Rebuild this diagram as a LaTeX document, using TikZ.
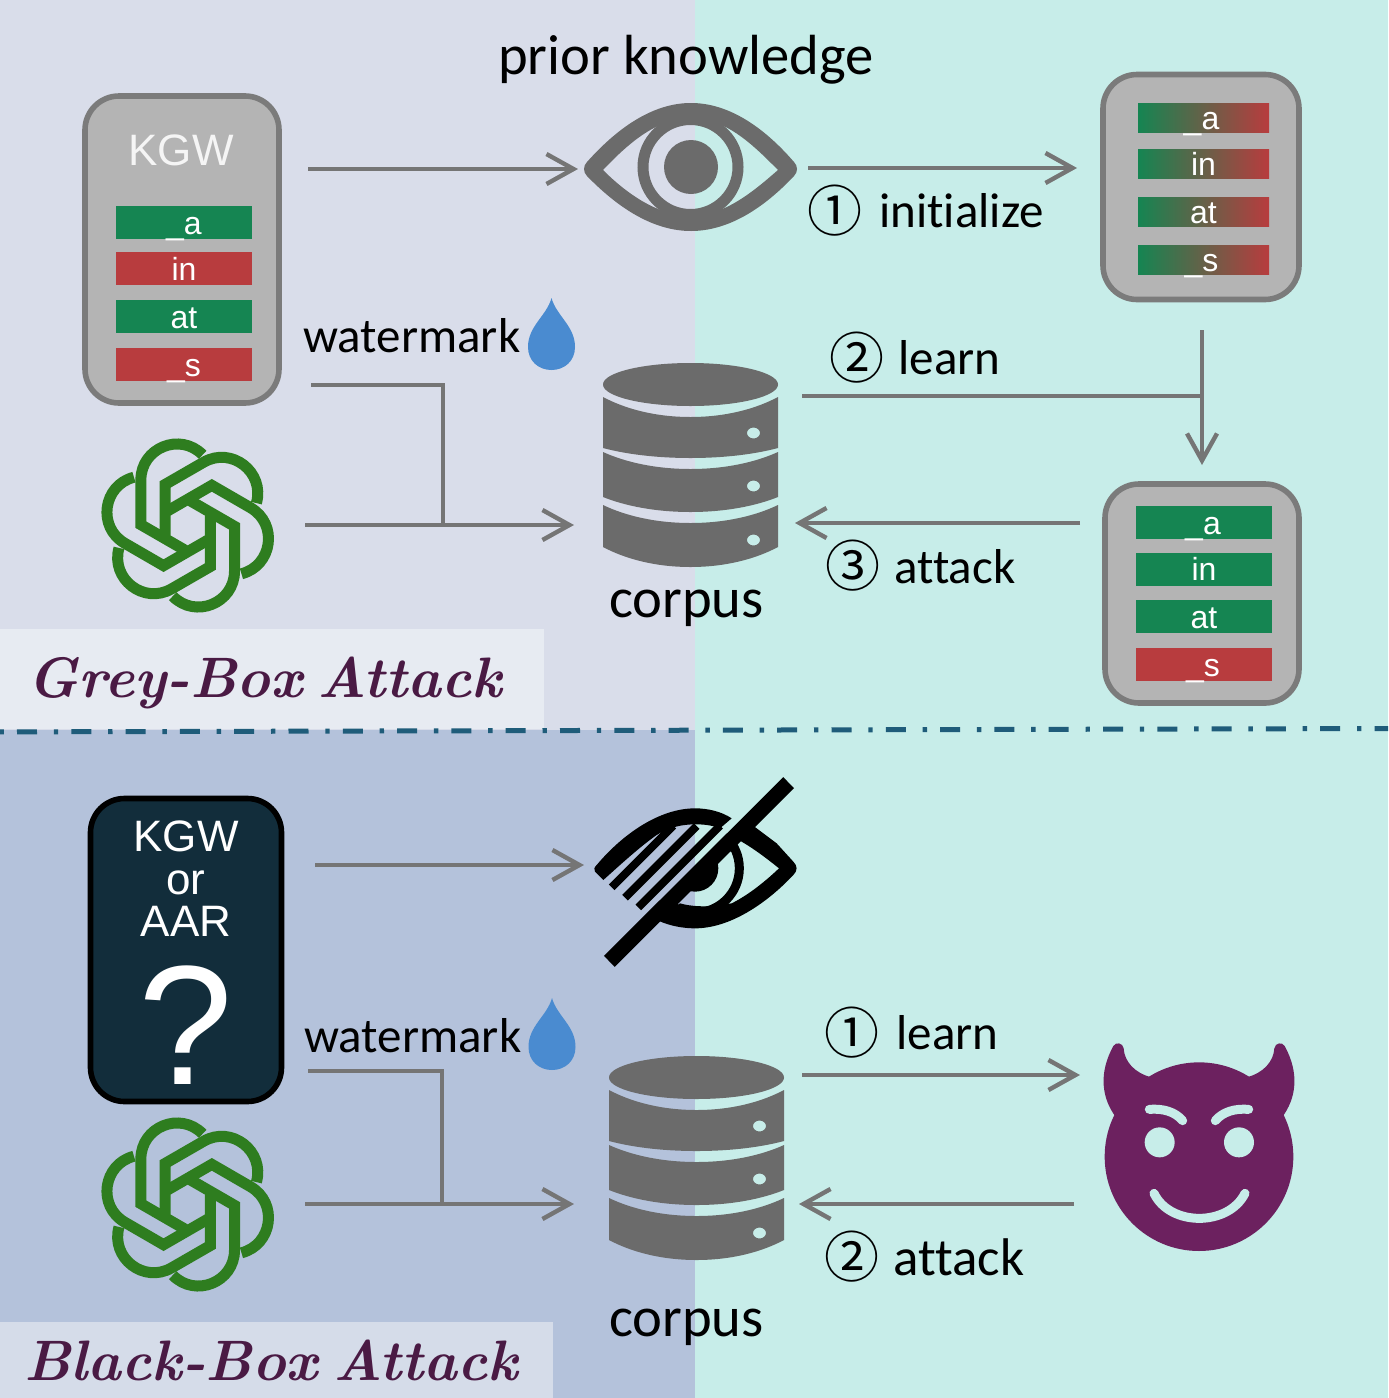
\documentclass[tikz,border=0pt]{standalone}
\usepackage{fontspec}
\usetikzlibrary{arrows.meta}
\newfontfamily\bodyfont[Ligatures=NoCommon]{Carlito}
\newfontfamily\cardfont{Liberation Sans}
\newfontfamily\circfont{Noto Sans CJK SC}
\definecolor{bgteal}{HTML}{C7EDE9}
\definecolor{bgtop}{HTML}{D9DDEA}
\definecolor{bgbot}{HTML}{B4C2DB}
\definecolor{boxtop}{HTML}{E7EBF2}
\definecolor{boxbot}{HTML}{D5DCE9}
\definecolor{divline}{HTML}{1F5C7A}
\definecolor{arrowgrey}{HTML}{757575}
\definecolor{icongrey}{HTML}{6B6B6B}
\definecolor{cardline}{HTML}{7B7B7B}
\definecolor{cardfill}{HTML}{B4B4B4}
\definecolor{darkcard}{HTML}{122D3B}
\definecolor{wgreen}{HTML}{158552}
\definecolor{wred}{HTML}{B83C3E}
\definecolor{logogreen}{HTML}{2E7D1F}
\definecolor{dropblue}{HTML}{4A8BD0}
\definecolor{devil}{HTML}{6C215F}
\definecolor{titlecol}{HTML}{4A1A44}
\newcommand\dbband[5]{\fill[icongrey, even odd rule] (-87.5,#1) .. controls (-65,{#1+0.6*(#2-#1)}) and (-35,#2) .. (0,#2) .. controls (35,#2) and (65,{#1+0.6*(#2-#1)}) .. (87.5,#1) -- (87.5,#3) .. controls (65,{#3+0.6*(#4-#3)}) and (35,#4) .. (0,#4) .. controls (-35,#4) and (-65,{#3+0.6*(#4-#3)}) .. (-87.5,#3) -- cycle (63,#5) ellipse [x radius=6.5,y radius=5.5];}
\tikzset{
  conn/.style={draw=arrowgrey,line width=2.2pt},
  arr/.style={conn,-{Straight Barb[length=13.5pt,width=15pt,line width=2.2pt]}},
  card/.style={rectangle,draw=cardline,line width=2.8pt,fill=cardfill,rounded corners=17pt,inner sep=0pt},
  bignum/.style={font=\circfont\fontsize{27.5}{28}\selectfont,inner sep=0pt,text=black},
  lab/.style={font=\bodyfont\fontsize{24.5}{26}\selectfont,anchor=base west,inner sep=0pt,text=black},
  labc/.style={font=\bodyfont\fontsize{28.3}{30}\selectfont,anchor=base,inner sep=0pt,text=black},
  cardtext/.style={font=\cardfont\fontsize{22}{24}\selectfont,anchor=base,inner sep=0pt},
  barbase/.style={rectangle,inner sep=0pt,text=white,font=\cardfont\fontsize{16}{16}\selectfont},
  barbig/.style={barbase,minimum width=68pt,minimum height=16.5pt,text height=14pt,text depth=2.5pt},
  barsmall/.style={barbase,minimum width=65.5pt,minimum height=14.5pt,text height=13pt,text depth=1.5pt,left color=wgreen,right color=wred},
  titlelab/.style={font=\rmfamily\itshape\bfseries\fontsize{28.5}{30}\selectfont,text=titlecol,anchor=base,inner sep=0pt},
  dbicon/.pic={
    \fill[icongrey] (0,21.5) ellipse [x radius=87.5,y radius=21.5];
    \dbband{34}{54}{85}{95}{70}
    \dbband{89}{106}{134}{149}{123}
    \dbband{142}{160}{184}{204}{177}
  },
  logoicon/.pic={
    \foreach \a in {0,60,...,300}{
      \draw[logogreen,line width=5.5pt,rotate=\a] (-22.7,10) -- (-22.7,-41) -- (16,-63.3) .. controls (43.9,-79.4) and (77.3,-53.4) .. (68.7,-22.4);
    }
  },
  dropicon/.pic={
    \fill[dropblue] (0,0) .. controls (-5,18) and (-23.5,28) .. (-23.5,49) .. controls (-23.5,63) and (-13,72) .. (0,72) .. controls (13,72) and (23.5,63) .. (23.5,49) .. controls (23.5,28) and (5,18) .. (0,0) -- cycle;
  }
}
\begin{document}
\begin{tikzpicture}[x=0.5pt,y=-0.5pt]
\useasboundingbox (0,0) rectangle (1388,1398);
% backgrounds
\fill[bgteal] (0,0) rectangle (1388,1398);
\fill[bgtop] (0,0) rectangle (694.5,730);
\fill[bgbot] (0,730) rectangle (694.5,1398);
\fill[boxtop] (0,629) rectangle (544,729);
\fill[boxbot] (0,1322) rectangle (553,1398);
\coordinate (divL) at (-37.3,732);
\coordinate (divR) at (1388,728.5);
\draw[divline,line width=2.5pt,dash pattern=on 10pt off 8.4pt on 2.2pt off 6.55pt] (divL) -- (divR);

% titles
\node[titlelab] (greytitle) at (265,697) {Grey-Box\hspace{-4pt} Attack};
\node[titlelab] (blacktitle) at (271,1380) {Black-Box\hspace{-4pt} Attack};

% seeing eye
\fill[icongrey,even odd rule]
  (587,162) .. controls (620,125) and (655,103) .. (691,103) .. controls (727,103) and (762,125) .. (794,162)
  .. controls (798,166) and (798,172) .. (794,176) .. controls (762,210) and (727,231) .. (691,231)
  .. controls (655,231) and (620,210) .. (587,176) .. controls (583,172) and (583,166) .. (587,162) -- cycle
  (603,170) .. controls (625,147) and (655,118) .. (691,118) .. controls (727,118) and (755,147) .. (778,170)
  .. controls (755,190) and (725,216) .. (691,216) .. controls (657,216) and (625,192) .. (603,170) -- cycle;
\draw[icongrey,line width=5.5pt] (690.5,167) circle [radius=47.5];
\fill[icongrey] (691,167) circle [radius=27];

% crossed eye
\begin{scope}[shift={(580,770)},scale=1/3]
  \fill[black] (50,285) .. controls (130,190) and (240,115) .. (345,115) .. controls (385,115) and (425,125) .. (455,145)
     -- (420,175) .. controls (395,165) and (370,163) .. (345,163) .. controls (310,163) and (270,170) .. (230,195)
     .. controls (180,230) and (120,285) .. (70,330) -- (45,305) .. controls (40,298) and (43,292) .. (50,285) -- cycle;
  \draw[black,line width=4pt] (280,167) -- (95,352);
  \draw[black,line width=4pt] (350,168) -- (135,383);
  \draw[black,line width=4pt] (420,167) -- (175,412);
  \fill[black] (510,160) -- (590,220) -- (640,275) .. controls (653,288) and (653,302) .. (640,315)
     .. controls (560,400) and (450,475) .. (345,475) .. controls (310,475) and (270,468) .. (235,452)
     -- (300,400) .. controls (370,420) and (450,400) .. (455,400) .. controls (505,375) and (555,335) .. (597,295)
     .. controls (560,265) and (520,235) .. (480,212) -- cycle;
  \begin{scope}
    \clip (500,130) -- (700,130) -- (700,500) -- (200,500) -- cycle;
    \draw[black,line width=4.5pt] (345,295) circle [radius=133];
    \fill[black] (345,295) circle [radius=70];
  \end{scope}
  \draw[black,line width=7.7pt] (626,38) -- (88,574);
\end{scope}

% databases
\pic at (690.5,363) {dbicon};
\pic at (696.5,1056) {dbicon};

% logos
\pic at (187.7,525.5) {logoicon};
\pic at (187.7,1204.5) {logoicon};

% drops
\pic at (551.5,298) {dropicon};
\pic at (552,998) {dropicon};

% devil
\begin{scope}[shift={(1090,1030)},scale=1/3]
  \fill[devil] (327,380) circle [radius=283];
  \fill[devil] (78,262) .. controls (35,205) and (25,130) .. (70,48) .. controls (78,35) and (98,38) .. (101,55) .. controls (103,95) and (135,130) .. (185,142) -- (200,300) -- cycle;
  \fill[devil] (576,262) .. controls (619,205) and (629,130) .. (584,48) .. controls (576,35) and (556,38) .. (553,55) .. controls (551,95) and (519,130) .. (469,142) -- (454,300) -- cycle;
  \fill[bgteal] (209,337) circle [radius=45];
  \fill[bgteal] (447,337) circle [radius=45];
  \draw[bgteal,line width=4.5pt,line cap=round] (178,238) .. controls (220,235) and (255,245) .. (278,272);
  \draw[bgteal,line width=4.5pt,line cap=round] (476,238) .. controls (434,235) and (399,245) .. (376,272);
  \draw[bgteal,line width=4.5pt,line cap=round] (192,490) .. controls (240,590) and (415,590) .. (465,490);
\end{scope}

% card 1
\node[card,minimum width=97pt,minimum height=153.5pt] (cardA) at (182,249.5) {};
\node[cardtext,text=white!96!black] (kgwA) at (181,165.5) {KGW};
\node[barbig,fill=wgreen] (a1) at (184,222.5) {\_a};
\node[barbig,fill=wred] (a2) at (184,268.5) {in};
\node[barbig,fill=wgreen] (a3) at (184,316.5) {at};
\node[barbig,fill=wred] (a4) at (184,364.5) {\_s};

% card 2
\node[card,minimum width=98pt,minimum height=112.5pt] (cardB) at (1201,187) {};
\node[barsmall] (b1) at (1203.5,117.5) {\hspace{-2pt}\_a};
\node[barsmall] (b2) at (1203.5,163.5) {in};
\node[barsmall] (b3) at (1203.5,211.5) {at};
\node[barsmall] (b4) at (1203.5,259.5) {\hspace{-2pt}\_s};

% card 3
\node[card,minimum width=97pt,minimum height=109.5pt] (cardC) at (1202,593.5) {};
\node[barbig,fill=wgreen] (c1) at (1204,522.5) {\hspace{-1pt}\_a};
\node[barbig,fill=wgreen] (c2) at (1204,569) {in};
\node[barbig,fill=wgreen] (c3) at (1204,616.5) {at};
\node[barbig,fill=wred] (c4) at (1204,664.5) {\hspace{-1pt}\_s};

% dark card
\node[card,draw=black,fill=darkcard,minimum width=95.5pt,minimum height=151.5pt] (cardD) at (186,950) {};
\node[cardtext,text=white] (kgwD) at (186,851.5) {KGW};
\node[cardtext,text=white] (orD) at (186,894.5) {or};
\node[cardtext,text=white] (aarD) at (186,936.5) {AAR};
\node[cardtext,text=white,font=\cardfont\fontsize{85}{85}\selectfont] (qD) at (186,1084) {?};

% labels
\node[labc] (prior) at (686,74) {prior knowledge};
\node[lab] (wmA) at (303,352) {watermark};
\node[lab] (wmB) at (304,1052) {watermark};
\node[labc] (corpA) at (686.5,617) {corpus};
\node[labc] (corpB) at (686.5,1336) {corpus};
\node[bignum] (n1) at (835,211) {①};
\node[lab] (initlab) at (879,227) {initialize};
\node[bignum] (n2) at (857,358) {②};
\node[lab] (learnA) at (898,374) {learn};
\node[bignum] (n3) at (853,566) {③};
\node[lab] (attackA) at (894,583) {attack};
\node[bignum] (n4) at (852,1033) {①};
\node[lab] (learnB) at (896,1049) {learn};
\node[bignum] (n5) at (852,1257) {②};
\node[lab,font=\bodyfont\fontsize{26.5}{28}\selectfont] (attackB) at (893,1275) {attack};

% connector ends
\coordinate (p1s) at (308,169); \coordinate (p1e) at (578,169);
\coordinate (p2s) at (808,168); \coordinate (p2e) at (1077,168);
\coordinate (p3s) at (1202,330); \coordinate (p3e) at (1202,465);
\coordinate (p4s) at (802,396); \coordinate (p4e) at (1202,396);
\coordinate (p5s) at (1080,523); \coordinate (p5e) at (795,523);
\coordinate (p6s) at (305,525); \coordinate (p6e) at (574,525);
\coordinate (p7s) at (311,385); \coordinate (p7m) at (443,385); \coordinate (p7e) at (443,525);
\coordinate (q1s) at (315,865); \coordinate (q1e) at (584,865);
\coordinate (q2s) at (305,1204); \coordinate (q2e) at (574,1204);
\coordinate (q3s) at (308,1071); \coordinate (q3m) at (442,1071); \coordinate (q3e) at (442,1204);
\coordinate (q4s) at (802,1075); \coordinate (q4e) at (1080,1075);
\coordinate (q5s) at (1074,1204); \coordinate (q5e) at (799,1204);

\draw[arr] (p1s) -- (p1e);
\draw[arr] (p2s) -- (p2e);
\draw[arr] (p3s) -- (p3e);
\draw[conn] (p4s) -- (p4e);
\draw[arr] (p5s) -- (p5e);
\draw[arr] (p6s) -- (p6e);
\draw[conn] (p7s) -- (p7m) -- (p7e);
\draw[arr] (q1s) -- (q1e);
\draw[arr] (q2s) -- (q2e);
\draw[conn] (q3s) -- (q3m) -- (q3e);
\draw[arr] (q4s) -- (q4e);
\draw[arr] (q5s) -- (q5e);
\end{tikzpicture}
\end{document}
